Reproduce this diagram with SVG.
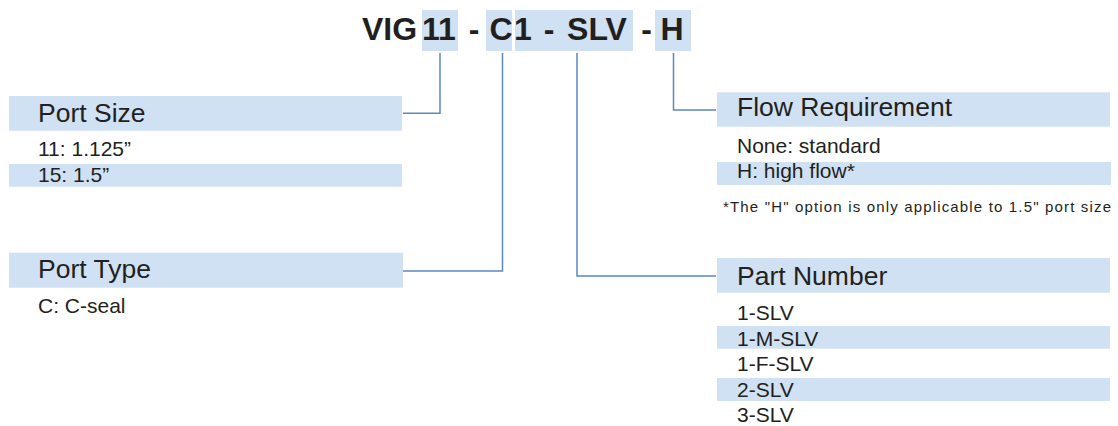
<svg xmlns="http://www.w3.org/2000/svg" width="1118" height="426" viewBox="0 0 1118 426">
  <style>
    .hl { fill: #cfe1f2; }
    .title { font-family: "Liberation Sans", Arial, sans-serif; font-weight: bold; font-size: 32px; fill: #231f20; }
    .head { font-family: "Liberation Sans", Arial, sans-serif; font-size: 26.5px; fill: #231f20; }
    .item { font-family: "Liberation Sans", Arial, sans-serif; font-size: 21px; fill: #231f20; }
    .note { font-family: "Liberation Sans", Arial, sans-serif; font-size: 15px; fill: #231f20; }
    .conn { fill: none; stroke: #5a88c0; stroke-width: 1.5; }
  </style>
  <rect width="1118" height="426" fill="#ffffff"/>

  <g id="title">
    <rect class="hl" x="422" y="10" width="36" height="41"/>
    <rect class="hl" x="486" y="10" width="26" height="41"/>
    <rect class="hl" x="515" y="10" width="118" height="41"/>
    <rect class="hl" x="655" y="10" width="36" height="41"/>
    <text class="title" x="362" y="39.5">VIG</text>
    <text class="title" x="439" y="39.5" text-anchor="middle">11</text>
    <text class="title" x="474" y="39.5" text-anchor="middle">-</text>
    <text class="title" x="501" y="39.5" text-anchor="middle">C</text>
    <text class="title" x="523" y="39.5" text-anchor="middle">1</text>
    <text class="title" x="549" y="39.5" text-anchor="middle">-</text>
    <text class="title" x="597" y="39.5" text-anchor="middle">SLV</text>
    <text class="title" x="646.5" y="39.5" text-anchor="middle">-</text>
    <text class="title" x="672" y="39.5" text-anchor="middle">H</text>
  </g>

  <g id="connectors">
    <polyline class="conn" points="440,53 440,113.3 403,113.3"/>
    <polyline class="conn" points="502.5,53 502.5,271 403,271"/>
    <polyline class="conn" points="577,53 577,276 716,276"/>
    <polyline class="conn" points="673.5,53 673.5,110 716,110"/>
  </g>

  <g id="port-size">
    <rect class="hl" x="9" y="96" width="393" height="34.7"/>
    <text class="head" x="38" y="121.7">Port Size</text>
    <text class="item" x="38" y="156">11: 1.125”</text>
    <rect class="hl" x="9" y="164" width="393" height="22.7"/>
    <text class="item" x="38" y="181.7">15: 1.5”</text>
  </g>

  <g id="port-type">
    <rect class="hl" x="9" y="252.7" width="394" height="35"/>
    <text class="head" x="38" y="278.3">Port Type</text>
    <text class="item" x="38" y="312.7">C: C-seal</text>
  </g>

  <g id="flow-requirement">
    <rect class="hl" x="717" y="92.3" width="393" height="34.4"/>
    <text class="head" x="737" y="116">Flow Requirement</text>
    <text class="item" x="737" y="153.3">None: standard</text>
    <rect class="hl" x="717" y="162" width="394" height="23"/>
    <text class="item" x="737" y="178.3">H: high flow*</text>
    <text class="note" x="723" y="212" textLength="388" lengthAdjust="spacing">*The "H" option is only applicable to 1.5" port size</text>
  </g>

  <g id="part-number">
    <rect class="hl" x="717" y="258" width="393" height="34.7"/>
    <text class="head" x="737" y="285">Part Number</text>
    <text class="item" x="737" y="320">1-SLV</text>
    <rect class="hl" x="717" y="326" width="393" height="22.7"/>
    <text class="item" x="737" y="346">1-M-SLV</text>
    <text class="item" x="737" y="371">1-F-SLV</text>
    <rect class="hl" x="717" y="378" width="393" height="23"/>
    <text class="item" x="737" y="397">2-SLV</text>
    <text class="item" x="737" y="422">3-SLV</text>
  </g>
</svg>
